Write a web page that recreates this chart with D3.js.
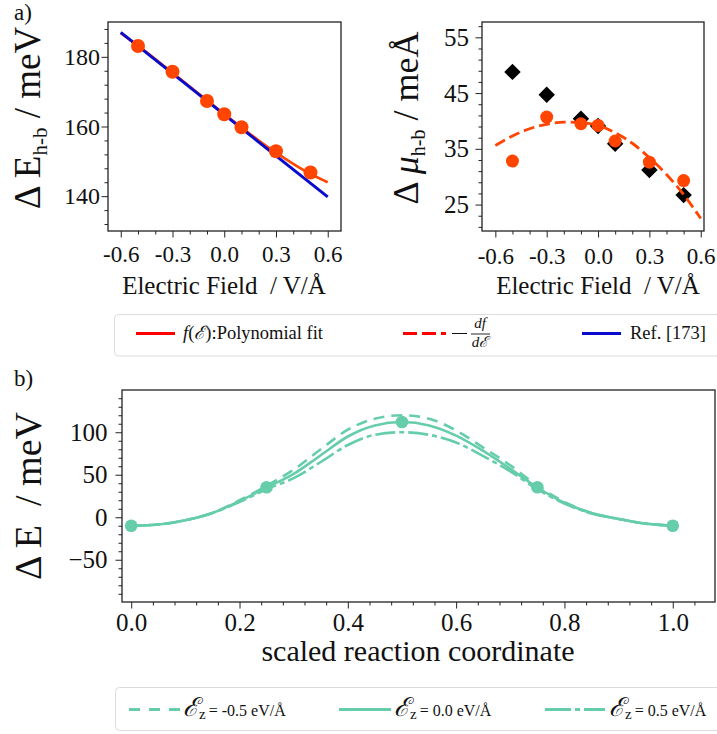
<!DOCTYPE html>
<html><head><meta charset="utf-8">
<script src="https://cdn.jsdelivr.net/npm/d3@7"></script>
<style>
body{margin:0;background:#fff}
svg{display:block}
text{font-family:"Liberation Serif",serif;fill:#111}
</style>
</head><body>
<svg id="c" width="717" height="734"></svg>
<script>
// ---------- data ----------
// panel a) left: hole-bound energy vs field
const fieldA = [-0.5, -0.3, -0.1, 0.0, 0.1, 0.3, 0.5];
const energyA = [183.1, 175.7, 167.3, 163.5, 159.8, 152.9, 146.8];
const fitX = [-0.6, -0.5, -0.4, -0.3, -0.2, -0.1, 0.0, 0.1, 0.2, 0.3, 0.4, 0.5, 0.6];
const fitE = [186.8, 183.15, 179.35, 175.45, 171.5, 167.5, 163.55, 159.7, 156.0, 152.5, 149.3, 146.4, 144.0];
const refX = [-0.6, 0.6];
const refE = [187.0, 139.8];
// panel a) right: dipole difference vs field
const muDiamonds = [48.8, 44.7, 40.4, 39.1, 35.9, 31.2, 26.7];
const muCircles = [32.8, 40.7, 39.5, 39.2, 36.4, 32.6, 29.3];
const derivMu = [35.6, 37.3, 38.6, 39.4, 39.8, 39.7, 39.2, 37.9, 36.0, 33.4, 30.4, 26.8, 22.5];
// panel b): energy profiles along reaction coordinate
const rc = [0, 0.05, 0.1, 0.15, 0.2, 0.25, 0.3, 0.35, 0.4, 0.45, 0.5, 0.55, 0.6, 0.65, 0.7, 0.75, 0.8, 0.85, 0.9, 0.95, 1.0];
const E_m05 = [-10, -8.5, -3.5, 5, 20, 37, 56, 80, 103, 116, 120, 116, 102, 82, 61, 37, 18, 5, -2, -7.5, -10];
const E_00  = [-10, -8.5, -3.5, 5, 19, 35, 51, 73, 95, 108, 112, 108, 96, 78, 57, 35, 17, 5, -2, -7.5, -10];
const E_p05 = [-10, -8.5, -3.5, 5, 18, 33, 46, 65, 85, 97, 100, 97, 88, 72, 54, 33, 16, 4.5, -2, -7.5, -10];
const rcImages = [0, 0.25, 0.5, 0.75, 1.0];
const E_images = [-10, 35.3, 112, 35.3, -10];
// tick values
const ticksAx = [-0.6, -0.3, 0.0, 0.3, 0.6];
const ticksAyL = [140, 160, 180];
const ticksAyR = [25, 35, 45, 55];
const ticksBx = [0.0, 0.2, 0.4, 0.6, 0.8, 1.0];
const ticksBy = [-50, 0, 50, 100];

// ---------- helpers ----------
const FONT = "Liberation Serif, serif";
const svg = d3.select("#c");
const ORANGE = "#ff4500", TEAL = "#66cdaa";
function range(a, b, s){ const r=[]; for(let v=a; v<=b+1e-9; v+=s) r.push(+v.toFixed(4)); return r; }
function frame(x, y){
  const [x0,x1]=x.range(), [y1,y0]=y.range();
  svg.append("rect").attr("x",x0).attr("y",y0).attr("width",x1-x0).attr("height",y1-y0)
    .attr("fill","none").attr("stroke","#222").attr("stroke-width",1.3);
}
function style(g, fs){
  g.select(".domain").remove();
  g.selectAll(".tick line").attr("stroke","#222").attr("stroke-width",1);
  g.selectAll(".tick text").attr("font-size",fs).attr("fill","#111").attr("font-family",FONT);
}
function xAxis(x, y, majors, minors, fmt, pad, fs){
  const yb = y.range()[0];
  const gm = svg.append("g").attr("transform",`translate(0,${yb})`)
    .call(d3.axisBottom(x).tickValues(minors.filter(v=>!majors.some(m=>Math.abs(m-v)<1e-6))).tickSize(3.5).tickFormat(""));
  style(gm, fs);
  const g = svg.append("g").attr("transform",`translate(0,${yb})`)
    .call(d3.axisBottom(x).tickValues(majors).tickSize(6.5).tickPadding(pad).tickFormat(fmt));
  style(g, fs);
}
function yAxis(x, y, majors, minors, fmt, pad, fs){
  const xl = x.range()[0];
  const gm = svg.append("g").attr("transform",`translate(${xl},0)`)
    .call(d3.axisLeft(y).tickValues(minors.filter(v=>!majors.some(m=>Math.abs(m-v)<1e-6))).tickSize(3.5).tickFormat(""));
  style(gm, fs);
  const g = svg.append("g").attr("transform",`translate(${xl},0)`)
    .call(d3.axisLeft(y).tickValues(majors).tickSize(6.5).tickPadding(pad).tickFormat(fmt));
  style(g, fs);
}
const fmt1 = d => d.toFixed(1);

// ---------- panel a) left ----------
const xA = d3.scaleLinear([-0.674, 0.677], [108, 341]);
const yA = d3.scaleLinear([130, 190], [231, 22]);
xAxis(xA, yA, ticksAx, range(-0.6, 0.6, 0.1), fmt1, 8, 23);
yAxis(xA, yA, ticksAyL, range(132, 188, 4), d=>d, 1.5, 24);
svg.append("path").datum(fitX.map((v,i)=>[v,fitE[i]]))
  .attr("d", d3.line().x(d=>xA(d[0])).y(d=>yA(d[1])).curve(d3.curveMonotoneX))
  .attr("fill","none").attr("stroke",ORANGE).attr("stroke-width",2.6);
svg.append("path").datum(refX.map((v,i)=>[v,refE[i]]))
  .attr("d", d3.line().x(d=>xA(d[0])).y(d=>yA(d[1])))
  .attr("fill","none").attr("stroke","#0a0acd").attr("stroke-width",3);
svg.append("g").selectAll("circle").data(fieldA).join("circle")
  .attr("cx",d=>xA(d)).attr("cy",(d,i)=>yA(energyA[i])).attr("r",7).attr("fill",ORANGE);
frame(xA, yA);

// ---------- panel a) right ----------
const xB = d3.scaleLinear([-0.678, 0.619], [482, 704]);
const yB = d3.scaleLinear([20.26, 57.75], [231, 22]);
xAxis(xB, yB, ticksAx, range(-0.6, 0.6, 0.1), fmt1, 10, 23);
yAxis(xB, yB, ticksAyR, range(21, 57, 2), d=>d, 6.5, 25);
const diamond = d3.symbol().type(d3.symbolSquare).size(135);
svg.append("g").selectAll("path").data(fieldA).join("path")
  .attr("d", diamond)
  .attr("transform",(d,i)=>`translate(${xB(d)},${yB(muDiamonds[i])}) rotate(45)`)
  .attr("fill","#000");
svg.append("path").datum(fitX.map((v,i)=>[v,derivMu[i]]))
  .attr("d", d3.line().x(d=>xB(d[0])).y(d=>yB(d[1])).curve(d3.curveMonotoneX))
  .attr("fill","none").attr("stroke",ORANGE).attr("stroke-width",2.8).attr("stroke-dasharray","11,5");
svg.append("g").selectAll("circle").data(fieldA).join("circle")
  .attr("cx",d=>xB(d)).attr("cy",(d,i)=>yB(muCircles[i])).attr("r",6.5).attr("fill",ORANGE);
frame(xB, yB);

// ---------- axis labels panel a ----------
svg.append("text").attr("x",14).attr("y",20).attr("font-size",23).text("a)");
const lblA = svg.append("text").attr("transform","translate(40,118) rotate(-90)")
  .attr("text-anchor","middle").attr("font-size",37);
lblA.append("tspan").text("Δ E");
lblA.append("tspan").attr("font-size",21).attr("dy",7).text("h-b");
lblA.append("tspan").attr("dy",-7).text(" / meV");
const lblB = svg.append("text").attr("transform","translate(418,118) rotate(-90)")
  .attr("text-anchor","middle").attr("font-size",36);
lblB.append("tspan").text("Δ ");
lblB.append("tspan").attr("font-style","italic").text("μ");
lblB.append("tspan").attr("font-size",20).attr("dy",7).text("h-b");
lblB.append("tspan").attr("dy",-7).text(" / meÅ");
svg.append("text").attr("x",224).attr("y",294).attr("text-anchor","middle").attr("font-size",25)
  .attr("xml:space","preserve").text("Electric Field  / V/Å");
svg.append("text").attr("x",598).attr("y",294).attr("text-anchor","middle").attr("font-size",25)
  .attr("xml:space","preserve").text("Electric Field  / V/Å");

// ---------- legend 1 ----------
svg.append("rect").attr("x",114.5).attr("y",314.5).attr("width",610).attr("height",41.5).attr("rx",4)
  .attr("fill","#fff").attr("stroke","#dcdcdc").attr("stroke-width",1);
svg.append("line").attr("x1",136).attr("x2",175).attr("y1",333.5).attr("y2",333.5).attr("stroke","#ff0000").attr("stroke-width",2.8);
const l1 = svg.append("text").attr("x",183).attr("y",339).attr("font-size",18.5);
l1.append("tspan").attr("font-style","italic").text("f");
l1.append("tspan").text("(");
l1.append("tspan").attr("font-style","italic").text("ℰ");
l1.append("tspan").text("):");
l1.append("tspan").text("Polynomial fit");
svg.append("line").attr("x1",403).attr("x2",446).attr("y1",333.5).attr("y2",333.5).attr("stroke","#ff0000").attr("stroke-width",2.8).attr("stroke-dasharray","14,5");
svg.append("line").attr("x1",452).attr("x2",467).attr("y1",333.5).attr("y2",333.5).attr("stroke","#111").attr("stroke-width",1);
svg.append("text").attr("x",480).attr("y",328).attr("text-anchor","middle").attr("font-size",15).attr("font-style","italic").text("df");
svg.append("line").attr("x1",471).attr("x2",490).attr("y1",334).attr("y2",334).attr("stroke","#111").attr("stroke-width",0.9);
svg.append("text").attr("x",480).attr("y",347).attr("text-anchor","middle").attr("font-size",15).attr("font-style","italic").text("dℰ");
svg.append("line").attr("x1",582).attr("x2",621).attr("y1",333.5).attr("y2",333.5).attr("stroke","#0a0acd").attr("stroke-width",2.8);
svg.append("text").attr("x",630).attr("y",339).attr("font-size",18.5).text("Ref. [173]");

// ---------- panel b ----------
const xC = d3.scaleLinear([-0.017, 1.078], [122, 715]);
const yC = d3.scaleLinear([-99.7, 149.7], [602, 390]);
xAxis(xC, yC, ticksBx, range(0, 1.04, 0.04), fmt1, 4.5, 25);
yAxis(xC, yC, ticksBy, range(-90, 140, 10), d => d < 0 ? "\u2212" + Math.abs(d) : d, 8, 25);
const lineC = d3.line().x((d,i)=>xC(rc[i])).y(d=>yC(d)).curve(d3.curveMonotoneX);
svg.append("path").datum(E_m05).attr("d",lineC).attr("fill","none").attr("stroke",TEAL).attr("stroke-width",2.6).attr("stroke-dasharray","11,7");
svg.append("path").datum(E_p05).attr("d",lineC).attr("fill","none").attr("stroke",TEAL).attr("stroke-width",2.6).attr("stroke-dasharray","20,4,5,4");
svg.append("path").datum(E_00).attr("d",lineC).attr("fill","none").attr("stroke",TEAL).attr("stroke-width",2.6);
svg.append("g").selectAll("circle").data(rcImages).join("circle")
  .attr("cx",d=>xC(d)).attr("cy",(d,i)=>yC(E_images[i])).attr("r",6.3).attr("fill",TEAL);
frame(xC, yC);
svg.append("text").attr("x",14).attr("y",386).attr("font-size",23).text("b)");
svg.append("text").attr("transform","translate(41,496) rotate(-90)").attr("text-anchor","middle")
  .attr("font-size",38).attr("xml:space","preserve").text("Δ E  / meV");
svg.append("text").attr("x",418).attr("y",661).attr("text-anchor","middle").attr("font-size",30).text("scaled reaction coordinate");

// ---------- legend 2 ----------
svg.append("rect").attr("x",115.5).attr("y",687.5).attr("width",610).attr("height",43).attr("rx",4)
  .attr("fill","#fff").attr("stroke","#dcdcdc").attr("stroke-width",1);
const leg2 = [
  {x1:129, x2:180, dash:"11,9", tx:183, label:"= -0.5 eV/Å"},
  {x1:339, x2:391, dash:null, tx:394, label:"= 0.0 eV/Å"},
  {x1:545, x2:605, dash:"26,4,5,4", tx:609, label:"= 0.5 eV/Å"}
];
leg2.forEach(e=>{
  const ln = svg.append("line").attr("x1",e.x1).attr("x2",e.x2).attr("y1",709.5).attr("y2",709.5)
    .attr("stroke",TEAL).attr("stroke-width",3);
  if(e.dash) ln.attr("stroke-dasharray",e.dash);
  const t = svg.append("text").attr("x",e.tx).attr("y",716).attr("font-size",26);
  t.append("tspan").attr("font-style","italic").text("ℰ");
  t.append("tspan").attr("font-size",15).attr("dy",3).text("z");
  t.append("tspan").attr("font-size",16).attr("dy",-3).attr("dx",3).text(e.label);
});
</script>
</body></html>
